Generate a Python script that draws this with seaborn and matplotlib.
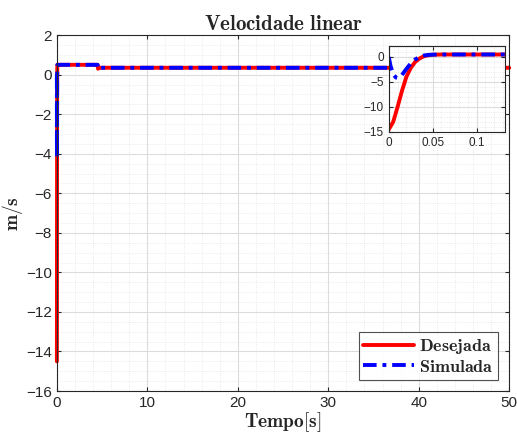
import numpy as np
import pandas as pd
import seaborn as sns
import matplotlib.pyplot as plt
from matplotlib.ticker import MultipleLocator

# Data
t_des = [0.0, 0.005, 0.01, 0.015, 0.02, 0.025, 0.03, 0.035, 0.04, 0.045, 0.05, 0.06, 0.08, 4.5, 4.55, 4.7, 50.0]
v_des = [-14.5, -13.0, -10.0, -6.8, -4.0, -2.2, -1.0, -0.3, 0.15, 0.35, 0.45, 0.5, 0.5, 0.5, 0.3, 0.35, 0.35]

t_sim = [0.0, 0.002, 0.005, 0.008, 0.01, 0.015, 0.02, 0.025, 0.03, 0.035, 0.04, 0.045, 0.05, 0.06, 0.08, 4.5, 4.55, 4.7, 50.0]
v_sim = [0.0, -1.8, -3.4, -4.1, -4.2, -3.6, -2.4, -1.3, -0.5, 0.0, 0.3, 0.42, 0.47, 0.5, 0.5, 0.5, 0.3, 0.35, 0.35]

df_des = pd.DataFrame({'t': t_des, 'v': v_des})
df_sim = pd.DataFrame({'t': t_sim, 'v': v_sim})

sns.set_style("ticks")
plt.rcParams['mathtext.fontset'] = 'cm'
plt.rcParams['font.family'] = ['Liberation Sans', 'DejaVu Sans']

fig = plt.figure(figsize=(5.17, 4.34), dpi=100)
ax = fig.add_axes([0.110, 0.099, 0.875, 0.820])

dash = (0, (3.5, 1.5, 1, 1.5))


def style_axes(a, fs):
    a.tick_params(direction='in', top=True, right=True, labelsize=fs, colors='#262626', length=3)
    a.tick_params(which='minor', length=0)
    a.grid(which='major', color='#dcdcdc', lw=0.8, ls='-')
    a.grid(which='minor', color='#e4e4e4', lw=0.6, ls=':')
    for s in a.spines.values():
        s.set_color('#262626')
        s.set_linewidth(0.8)
    a.set_axisbelow(True)


sns.lineplot(data=df_des, x='t', y='v', ax=ax, color='red', lw=2.8, label=r'$\mathbf{Desejada}$',
             estimator=None, sort=False, clip_on=False)
sns.lineplot(data=df_sim, x='t', y='v', ax=ax, color='blue', lw=2.8, ls=dash, label=r'$\mathbf{Simulada}$',
             estimator=None, sort=False, clip_on=False)

ax.set_xlim(0, 50)
ax.set_ylim(-16, 2)
ax.xaxis.set_major_locator(MultipleLocator(10))
ax.xaxis.set_minor_locator(MultipleLocator(2))
ax.yaxis.set_major_locator(MultipleLocator(2))
ax.yaxis.set_minor_locator(MultipleLocator(0.5))
style_axes(ax, 11)

ax.set_title(r'$\mathbf{Velocidade\ linear}$', fontsize=15, pad=4)
ax.set_xlabel(r'$\mathbf{Tempo[s]}$', fontsize=14, labelpad=0)
ax.set_ylabel(r'$\mathbf{m/s}$', fontsize=14, labelpad=1)

leg = ax.legend(loc='lower right', fontsize=13, frameon=True, fancybox=False, edgecolor='#262626',
                handlelength=2.8, handletextpad=0.3, borderpad=0.25, labelspacing=0.15,
                borderaxespad=0.6)
leg.get_frame().set_linewidth(0.8)

# inset
axin = fig.add_axes([0.752, 0.696, 0.224, 0.198])
sns.lineplot(data=df_des, x='t', y='v', ax=axin, color='red', lw=2.8, estimator=None, sort=False, legend=False)
sns.lineplot(data=df_sim, x='t', y='v', ax=axin, color='blue', lw=2.8, ls=dash, estimator=None, sort=False, legend=False)
axin.set_xlim(0, 0.132)
axin.set_ylim(-15, 2.2)
axin.xaxis.set_major_locator(MultipleLocator(0.05))
axin.xaxis.set_minor_locator(MultipleLocator(0.01))
axin.yaxis.set_major_locator(MultipleLocator(5))
axin.yaxis.set_minor_locator(MultipleLocator(1))
axin.xaxis.set_major_formatter(plt.FuncFormatter(lambda v, p: f'{v:g}'))
style_axes(axin, 8.5)
axin.set_xlabel('')
axin.set_ylabel('')
axin.set_facecolor('white')

fig.savefig('out.png', dpi=100, facecolor='white')
plt.close()
